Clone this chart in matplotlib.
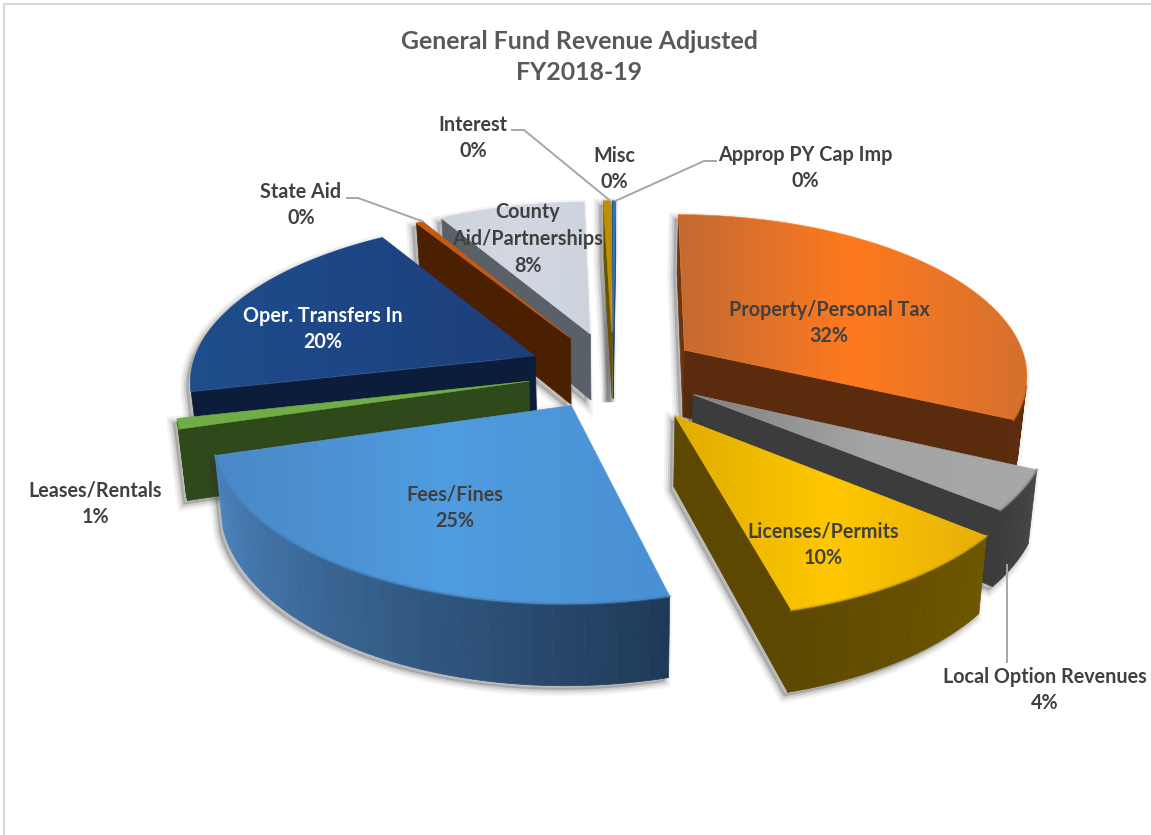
import matplotlib
matplotlib.use("Agg")
import matplotlib.pyplot as plt
from matplotlib.collections import PolyCollection
from matplotlib.colors import LinearSegmentedColormap, to_rgb
from matplotlib.patches import Polygon
import numpy as np

CATEGORIES = ["Property/Personal Tax", "Local Option Revenues", "Licenses/Permits", "Fees/Fines",
              "Leases/Rentals", "Oper. Transfers In", "State Aid", "County\nAid/Partnerships",
              "Interest", "Misc", "Approp PY Cap Imp"]
VALUES = [31.85, 3.9, 10.0, 24.55, 1.0, 19.7, 0.4, 8.0, 0.38, 0.06, 0.16]
EXPLODE = [0.25, 0.27, 0.32, 0.24, 0.25, 0.25, 0.25, 0.25, 0.25, 0.25, 0.25]

# top face: left, middle, right
TOP_COLORS = [("#C26A33", "#FF7A1E", "#D4702F"), ("#808080", "#A4A4A4", "#A8A8A8"),
              ("#E0AC00", "#FFC800", "#E6AE0A"), ("#4A88C6", "#4F9CE0", "#4A90D2"),
              ("#70AD47", "#70AD47", "#70AD47"), ("#1F4E8C", "#1E4585", "#1D3F78"),
              ("#C55A11", "#C55A11", "#C55A11"), ("#CDD3DD", "#D3D8E2", "#CDD3DD"),
              ("#BF9000", "#BF9000", "#BF9000"), ("#E8E8E8", "#E8E8E8", "#E8E8E8"),
              ("#2E75B6", "#2E75B6", "#2E75B6")]
# side walls: first angle to last angle of the arc, then the two flat sides
WALL_COLORS = [("#6A3510", "#5A2C0D"), ("#454545", "#3C3C3C"), ("#6E5700", "#5C4800"),
               ("#1F3A58", "#4C84BE"), ("#2F4A1A", "#2F4A1A"), ("#0B1D3A", "#0B1D3A"),
               ("#4A2000", "#4A2000"), ("#5A6068", "#5A6068"), ("#665200", "#665200"),
               ("#777777", "#777777"), ("#1B4468", "#1B4468")]
LABEL_POS = [(829, 323), (1045, 690), (823, 545), (455, 508), (95, 504), (323, 329),
             (301, 205), (528, 239), (473, 138), (614, 169), (805, 168)]
LABEL_COLORS = ["#404040"] * 11
LABEL_COLORS[5] = "white"

TITLE = "General Fund Revenue Adjusted\nFY2018-19"

CX, CY = 613, 371
SCALE_X, SCALE_Y = 344, 160
PERSP = 0.14
DEPTH = 68
START = 0.5

plt.rcParams["font.family"] = ["Lato", "DejaVu Sans"]


def project(x, y, down=0.0):
    w = 1 + PERSP * y
    sx = SCALE_X * x / w
    sy = CY - SCALE_Y * y / w + down * DEPTH / w
    return CX + sx * (1 - 0.02 * down), sy


def wedge_points(a0, a1, e):
    mid = (a0 + a1) / 2
    ox, oy = e * np.sin(mid), e * np.cos(mid)
    n = max(2, int(np.degrees(a1 - a0) / 1.5) + 2)
    ang = np.linspace(a0, a1, n)
    return ox, oy, ox + np.sin(ang), oy + np.cos(ang)


def mix(c1, c2, t):
    c1, c2 = np.array(to_rgb(c1)), np.array(to_rgb(c2))
    return tuple(c1 + (c2 - c1) * t)


def area(pts):
    # y runs downwards on screen, so walls that face the camera come out positive
    x, y = np.array(pts).T
    return -0.5 * np.sum(x * np.roll(y, -1) - np.roll(x, -1) * y)


def quad(p0, p1):
    return [project(*p0), project(*p1), project(*p1, 1), project(*p0, 1)]


def hull_of(points):
    pts = sorted(set((float(a), float(b)) for a, b in points))

    def half(seq):
        out = []
        for p in seq:
            while len(out) > 1 and ((out[-1][0] - out[-2][0]) * (p[1] - out[-2][1])
                                    - (out[-1][1] - out[-2][1]) * (p[0] - out[-2][0])) <= 0:
                out.pop()
            out.append(p)
        return out[:-1]

    return half(pts) + half(pts[::-1])


def draw_shadow(ax, outline, z):
    pts = np.array(outline) + [-4, 4]
    for lw, alpha in [(9, 0.05), (6, 0.08), (3, 0.12)]:
        ax.add_patch(Polygon(pts, closed=True, fc="#303030", ec="#303030", lw=lw, alpha=alpha, zorder=z))


def draw_slice(ax, i, a0, a1, z):
    ox, oy, xs, ys = wedge_points(a0, a1, EXPLODE[i])
    c0, c1 = WALL_COLORS[i]

    top = [project(ox, oy)] + [project(x, y) for x, y in zip(xs, ys)]
    bottom = [project(ox, oy, 1)] + [project(x, y, 1) for x, y in zip(xs, ys)]
    draw_shadow(ax, hull_of(top + bottom), z - 0.1)

    # back walls point away from the camera, keep only those that face it
    walls, colors = [], []
    for p0, p1, col in [((ox, oy), (xs[0], ys[0]), c0), ((xs[-1], ys[-1]), (ox, oy), c1)]:
        q = quad(p0, p1)
        if area(q) > 0:
            walls.append(q)
            colors.append(col)
    rim = []
    for k in range(len(xs) - 1):
        q = quad((xs[k], ys[k]), (xs[k + 1], ys[k + 1]))
        if area(q) > 0:
            walls.append(q)
            colors.append(mix(c0, c1, k / max(1, len(xs) - 2)))
            rim += [q[0], q[1]]
    if walls:
        ax.add_collection(PolyCollection(walls, facecolors=colors, edgecolors=colors, lw=0.5, zorder=z))

    px, py = np.array(top).T
    cmap = LinearSegmentedColormap.from_list("top%d" % i, TOP_COLORS[i])
    grad = np.linspace(0, 1, 256).reshape(1, -1)
    im = ax.imshow(grad, cmap=cmap, extent=(px.min(), px.max() + 1, py.max() + 1, py.min()),
                   aspect="auto", zorder=z + 0.1, interpolation="bilinear")
    im.set_clip_path(Polygon(top, closed=True, transform=ax.transData))
    ax.add_patch(Polygon(top, closed=True, fc="none", ec=TOP_COLORS[i][1], lw=0.4, zorder=z + 0.2))

    # soft bevel where the top meets the outer wall
    if rim:
        rx, ry = zip(*rim)
        ax.plot(rx, ry, color=mix(TOP_COLORS[i][1], c0, 0.3), lw=2, alpha=0.5, zorder=z + 0.3)


def main():
    fig = plt.figure(figsize=(11.51, 8.35), dpi=100)
    ax = fig.add_axes([0, 0, 1, 1])
    ax.set_axis_off()

    total = sum(VALUES)
    bounds = np.radians(START + 360 * np.concatenate([[0], np.cumsum(VALUES)]) / total)
    mids = (bounds[:-1] + bounds[1:]) / 2

    order = np.argsort(-np.cos(mids))
    for z, i in enumerate(order):
        draw_slice(ax, i, bounds[i], bounds[i + 1], 3 + z)

    ax.set_xlim(0, 1151)
    ax.set_ylim(835, 0)

    # chart border, only the left and top show
    ax.plot([4, 4, 1151], [835, 4, 4], color="#D9D9D9", lw=1.5, zorder=1)

    # leader lines
    for i, elbow in [(6, [(347, 198), (358, 198)]), (8, [(512, 130), (524, 130)]),
                     (10, [(716, 161), (704, 161)])]:
        ox, oy, xs, ys = wedge_points(bounds[i], bounds[i + 1], EXPLODE[i])
        end = project(xs[len(xs) // 2], ys[len(ys) // 2])
        lx, ly = zip(*(elbow + [end]))
        ax.plot(lx, ly, color="#A6A6A6", lw=1.4, zorder=30)
    ax.plot([1007, 1007], [565, 662], color="#A6A6A6", lw=1.4, zorder=30)

    ax.text(579, 57, TITLE, ha="center", va="center", fontsize=17.9, fontweight="bold",
            color="#595959", linespacing=1.42, zorder=40)
    for i, name in enumerate(CATEGORIES):
        ax.text(LABEL_POS[i][0], LABEL_POS[i][1], "%s\n%.0f%%" % (name, VALUES[i] * 100 / total),
                ha="center", va="center", fontsize=14.2, fontweight="bold", color=LABEL_COLORS[i],
                linespacing=1.42, zorder=40)

    fig.savefig("out.png", dpi=100, facecolor="white")


if __name__ == '__main__':
    main()
